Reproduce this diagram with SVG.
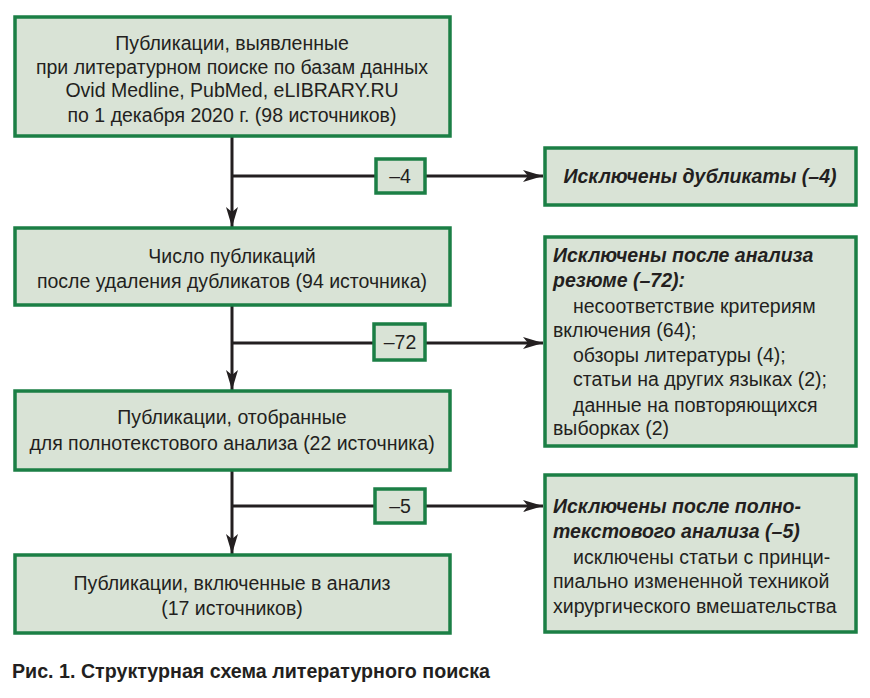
<svg xmlns="http://www.w3.org/2000/svg" width="870" height="698" viewBox="0 0 870 698">
<style>
.box{fill:#d9e3d6;stroke:#1b7f45;stroke-width:3.5}
.t{font-family:"Liberation Sans",Arial,sans-serif;font-size:19.5px;fill:#231f20}
.c{text-anchor:middle}
.bi{font-weight:bold;font-style:italic}
.ln{stroke:#231f20;stroke-width:3;fill:none}
</style>
<defs>
<marker id="ah" viewBox="0 0 20 12" refX="20" refY="6" markerWidth="20" markerHeight="12" markerUnits="userSpaceOnUse" orient="auto">
<path d="M0,0 L20,6 L0,12 L5,6 Z" fill="#231f20"/>
</marker>
</defs>
<rect width="870" height="698" fill="#fff"/>
<g id="connectors">
<line class="ln" x1="232" y1="137" x2="232" y2="227" marker-end="url(#ah)"/>
<line class="ln" x1="232" y1="176" x2="543" y2="176" marker-end="url(#ah)"/>
<line class="ln" x1="232" y1="305" x2="232" y2="390" marker-end="url(#ah)"/>
<line class="ln" x1="232" y1="343" x2="543" y2="343" marker-end="url(#ah)"/>
<line class="ln" x1="232" y1="470" x2="232" y2="554" marker-end="url(#ah)"/>
<line class="ln" x1="232" y1="506" x2="543" y2="506" marker-end="url(#ah)"/>
</g>
<g id="n-lbl4"><rect class="box" x="376" y="159" width="49" height="34"/><text class="t c" x="400" y="183">–4</text></g>
<g id="n-lbl72"><rect class="box" x="374" y="324" width="51" height="36"/><text class="t c" x="400" y="349">–72</text></g>
<g id="n-lbl5"><rect class="box" x="375" y="489" width="50" height="34"/><text class="t c" x="400" y="513">–5</text></g>
<g id="n1">
<rect class="box" x="15" y="17" width="435" height="119"/>
<text class="t c" x="232" y="50">Публикации, выявленные</text>
<text class="t c" x="232" y="74">при литературном поиске по базам данных</text>
<text class="t c" x="232" y="97">Ovid Medline, PubMed, eLIBRARY.RU</text>
<text class="t c" x="232" y="122">по 1 декабря 2020 г. (98 источников)</text>
</g>
<g id="n2">
<rect class="box" x="15" y="228" width="435" height="77"/>
<text class="t c" x="232" y="263">Число публикаций</text>
<text class="t c" x="232" y="288">после удаления дубликатов (94 источника)</text>
</g>
<g id="n3">
<rect class="box" x="15" y="391" width="435" height="79"/>
<text class="t c" x="232" y="424">Публикации, отобранные</text>
<text class="t c" x="232" y="450">для полнотекстового анализа (22 источника)</text>
</g>
<g id="n4">
<rect class="box" x="15" y="555" width="435" height="78"/>
<text class="t c" x="232" y="590">Публикации, включенные в анализ</text>
<text class="t c" x="232" y="615">(17 источников)</text>
</g>
<g id="r1">
<rect class="box" x="545" y="148" width="311" height="57"/>
<text class="t c bi" x="700" y="183">Исключены дубликаты (–4)</text>
</g>
<g id="r2">
<rect class="box" x="545" y="237" width="311" height="209"/>
<text class="t bi" x="553" y="262">Исключены после анализа</text>
<text class="t bi" x="553" y="287">резюме (–72):</text>
<text class="t" x="573" y="313">несоответствие критериям</text>
<text class="t" x="553" y="337">включения (64);</text>
<text class="t" x="573" y="362">обзоры литературы (4);</text>
<text class="t" x="573" y="386">статьи на других языках (2);</text>
<text class="t" x="573" y="412">данные на повторяющихся</text>
<text class="t" x="553" y="435">выборках (2)</text>
</g>
<g id="r3">
<rect class="box" x="545" y="475" width="311" height="157"/>
<text class="t bi" x="553" y="513">Исключены после полно-</text>
<text class="t bi" x="553" y="538">текстового анализа (–5)</text>
<text class="t" x="573" y="564">исключены статьи с принци-</text>
<text class="t" x="553" y="588">пиально измененной техникой</text>
<text class="t" x="553" y="613">хирургического вмешательства</text>
</g>
<text class="t" x="12" y="678" font-weight="bold" font-size="18" textLength="478" lengthAdjust="spacingAndGlyphs">Рис. 1. Структурная схема литературного поиска</text>
</svg>
